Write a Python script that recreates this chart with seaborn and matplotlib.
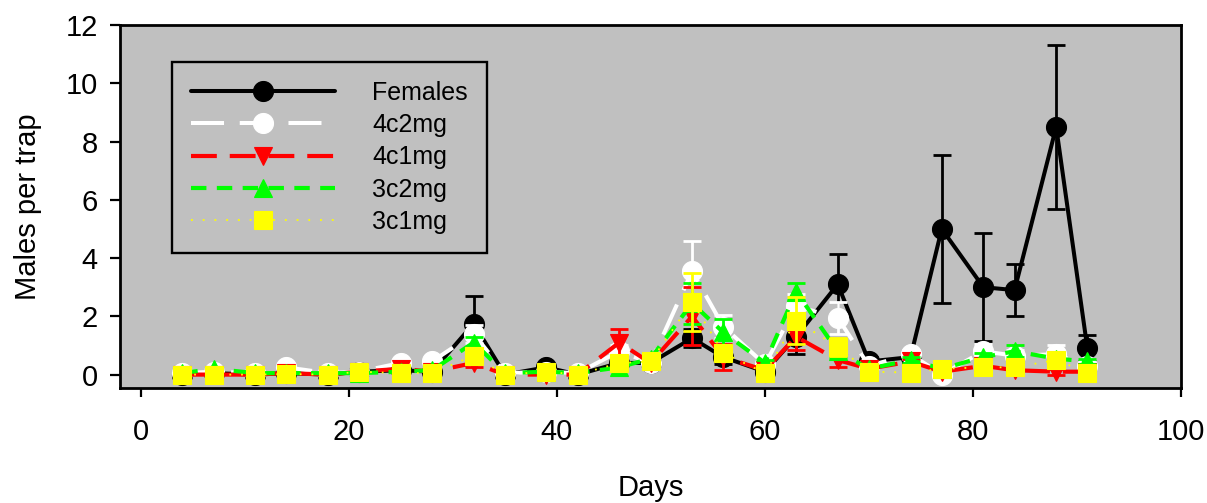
import matplotlib
matplotlib.use("Agg")
import matplotlib.pyplot as plt
import seaborn as sns
import numpy as np

days = [4, 7, 11, 14, 18, 21, 25, 28, 32, 35, 39, 42, 46, 49, 53, 56, 60, 63, 67, 70, 74, 77, 81, 84, 88, 91]

females = [0.0, 0.05, 0.0, 0.05, 0.0, 0.1, 0.15, 0.1, 1.75, 0.0, 0.25, 0.0, 0.4, 0.4, 1.25, 0.6, 0.1, 1.3, 3.1, 0.45, 0.6, 5.0, 3.0, 2.9, 8.5, 0.9]
females_se = [0.05, 0.05, 0.05, 0.05, 0.05, 0.1, 0.1, 0.1, 0.95, 0.05, 0.1, 0.05, 0.15, 0.15, 0.3, 0.25, 0.05, 0.6, 1.05, 0.15, 0.2, 2.55, 1.85, 0.9, 2.83, 0.45]

c4_2mg = [0.05, 0.1, 0.05, 0.25, 0.05, 0.1, 0.4, 0.45, 1.4, 0.05, 0.1, 0.05, 0.8, 0.4, 3.55, 1.65, 0.35, 2.35, 1.95, 0.3, 0.7, 0.0, 0.8, 0.65, 0.7, 0.3]
c4_2mg_se = [0.05, 0.05, 0.05, 0.1, 0.05, 0.05, 0.1, 0.1, 0.3, 0.05, 0.05, 0.05, 0.2, 0.1, 1.05, 0.4, 0.1, 0.4, 0.55, 0.1, 0.15, 0.1, 0.25, 0.2, 0.3, 0.1]

c4_1mg = [0.0, 0.0, 0.0, 0.05, 0.0, 0.1, 0.2, 0.1, 0.4, 0.0, 0.0, 0.0, 1.1, 0.4, 2.0, 0.6, 0.15, 1.3, 0.5, 0.2, 0.45, 0.1, 0.3, 0.15, 0.1, 0.1]
c4_1mg_se = [0.05, 0.05, 0.05, 0.05, 0.05, 0.05, 0.1, 0.05, 0.15, 0.05, 0.05, 0.05, 0.45, 0.1, 1.0, 0.45, 0.05, 0.45, 0.25, 0.1, 0.1, 0.1, 0.1, 0.1, 0.1, 0.05]

c3_2mg = [0.05, 0.2, 0.05, 0.05, 0.05, 0.05, 0.1, 0.15, 1.1, 0.05, 0.1, 0.05, 0.25, 0.55, 2.45, 1.45, 0.4, 2.85, 0.8, 0.2, 0.5, 0.2, 0.6, 0.8, 0.55, 0.45]
c3_2mg_se = [0.05, 0.05, 0.05, 0.05, 0.05, 0.05, 0.05, 0.05, 0.2, 0.05, 0.05, 0.05, 0.1, 0.1, 0.7, 0.45, 0.1, 0.3, 0.2, 0.05, 0.1, 0.1, 0.15, 0.2, 0.15, 0.1]

c3_1mg = [0.0, 0.0, 0.0, 0.02, 0.0, 0.1, 0.05, 0.05, 0.65, 0.0, 0.1, 0.0, 0.4, 0.45, 2.5, 0.75, 0.05, 1.85, 0.95, 0.1, 0.07, 0.2, 0.25, 0.25, 0.5, 0.07]
c3_1mg_se = [0.05, 0.05, 0.05, 0.05, 0.05, 0.05, 0.05, 0.05, 0.15, 0.05, 0.05, 0.05, 0.1, 0.1, 1.0, 0.2, 0.05, 0.8, 0.3, 0.05, 0.05, 0.05, 0.1, 0.1, 0.15, 0.05]

labels = ["Females", "4c2mg", "4c1mg", "3c2mg", "3c1mg"]
x_ticks = [0, 20, 40, 60, 80, 100]
y_ticks = [0, 2, 4, 6, 8, 10, 12]

sns.set_style("ticks")
plt.rcParams["font.family"] = ["Liberation Sans", "DejaVu Sans"]
plt.rcParams["text.color"] = "black"
plt.rcParams["axes.labelcolor"] = "black"
plt.rcParams["xtick.color"] = "black"
plt.rcParams["ytick.color"] = "black"

fig = plt.figure(figsize=(12.07, 5.03), dpi=100)
ax = fig.add_axes([120 / 1207, 1 - 388 / 503, (1181 - 120) / 1207, (388 - 25) / 503])
ax.set_facecolor("#C0C0C0")

series = [
    (females, females_se, labels[0], "#000000", "o", 14.4, "-", 2.9),
    (c4_2mg, c4_2mg_se, labels[1], "#FFFFFF", "o", 14.4, (0, (8.2, 3.9)), 2.9),
    (c4_1mg, c4_1mg_se, labels[2], "#FF0000", "v", 13, (0, (6.2, 3.1)), 3.0),
    (c3_2mg, c3_2mg_se, labels[3], "#00FF00", "^", 13, (0, (3.7, 2.5)), 3.0),
    (c3_1mg, c3_1mg_se, labels[4], "#FFFF00", "s", 13, (0, (1, 5.5)), 1.3),
]

for i, (vals, se, lab, col, mk, ms, ls, lw) in enumerate(series):
    z = 2 + i * 0.1
    ax.errorbar(days, vals, yerr=se, fmt="none", ecolor=col, elinewidth=2.0,
                capsize=6.5, capthick=2.0, zorder=z)
    sns.lineplot(x=days, y=vals, ax=ax, color=col, marker=mk, markersize=ms,
                 markeredgecolor=col, markerfacecolor=col, markeredgewidth=0.8,
                 linestyle=ls, linewidth=lw, label=lab, zorder=z + 0.05,
                 errorbar=None, sort=False)

ax.set_xlim(-2, 100)
ax.set_ylim(-0.46, 12)
ax.set_xticks(x_ticks)
ax.set_yticks(y_ticks)
ax.tick_params(axis="x", labelsize=21, length=6.5, width=1.6, pad=15, direction="out", colors="black")
ax.tick_params(axis="y", labelsize=21, length=7, width=1.6, pad=9, direction="out", colors="black")
for s in ax.spines.values():
    s.set_linewidth(2.0)
    s.set_color("black")
    s.set_visible(True)

ax.set_xlabel("Days", fontsize=21, labelpad=20, color="black")
ax.set_ylabel("Males per trap", fontsize=21, labelpad=17, color="black")

leg = ax.legend(loc="upper left", bbox_to_anchor=((172 - 120) / 1061, (388 - 62) / 363),
                borderaxespad=0, fontsize=18, handlelength=5.76, handletextpad=1.5,
                labelspacing=0.33, borderpad=0.75, numpoints=1, frameon=True,
                fancybox=False, edgecolor="black", facecolor="#C0C0C0", framealpha=1,
                labelcolor="black")
leg.get_frame().set_linewidth(1.7)

fig.savefig("out.png", dpi=100)
